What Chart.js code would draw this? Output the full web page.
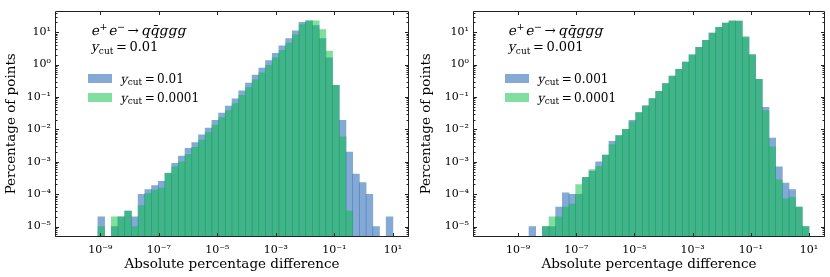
<!DOCTYPE html>
<html><head><meta charset="utf-8">
<script src="https://cdn.jsdelivr.net/npm/chart.js@4.4.1/dist/chart.umd.min.js"></script>
<style>
html,body{margin:0;padding:0;background:#fff;}
#wrap{position:relative;width:830px;height:277px;overflow:hidden;}
.panel{position:absolute;top:0;width:415px;height:277px;}
</style></head><body>
<div id="wrap">
<div class="panel" style="left:0"><canvas id="c1" width="415" height="277"></canvas></div>
<div class="panel" style="left:415px"><canvas id="c2" width="415" height="277"></canvas></div>
</div>
<script>
// log10 of histogram bin centres (bins 4..47 of a 48-bin log grid from 1e-10 to 1e1)
const binCentersLog = [-8.969,-8.740,-8.510,-8.281,-8.052,-7.823,-7.594,-7.365,-7.135,-6.906,
  -6.677,-6.448,-6.219,-5.990,-5.760,-5.531,-5.302,-5.073,-4.844,-4.615,
  -4.385,-4.156,-3.927,-3.698,-3.469,-3.240,-3.010,-2.781,-2.552,-2.323,
  -2.094,-1.865,-1.635,-1.406,-1.177,-0.948,-0.719,-0.490,-0.260,-0.031,
  0.198,0.427,0.656,0.885];

// Left panel: y_cut = 0.01 (blue) vs y_cut = 0.0001 (green)
const leftBlue = [2e-5,null,1e-5,2e-5,3e-5,2e-5,1e-4,1.4e-4,1.85e-4,2.5e-4,
  4.5e-4,9e-4,1.5e-3,2.6e-3,3.9e-3,6.8e-3,1.1e-2,1.9e-2,3.2e-2,5.2e-2,
  8.7e-2,0.155,0.27,0.47,0.78,1.32,2.24,3.8,6.3,11,
  20,22.4,16,6.3,1.6,0.23,0.019,2e-3,4.2e-4,2.3e-4,
  1e-4,1e-5,null,2e-5];
const leftGreen = [1e-5,null,2e-5,2e-5,3e-5,1e-5,4.5e-5,1.05e-4,1.35e-4,1.55e-4,
  4.3e-4,7e-4,1.0e-3,1.7e-3,2.8e-3,4.7e-3,8.1e-3,1.35e-2,2.3e-2,3.8e-2,
  6.3e-2,0.112,0.195,0.34,0.56,0.95,1.6,2.75,4.6,8.3,
  17,22.4,22.4,12,2.6,0.23,5.9e-3,3e-5,null,null,
  null,null,null,null];

// Right panel: y_cut = 0.001 (blue) vs y_cut = 0.0001 (green)
const rightBlue = [null,null,1e-5,null,1e-5,1e-5,4e-5,1.1e-4,1e-4,1e-4,
  3.3e-4,5.2e-4,1e-3,1.6e-3,4.3e-3,6.5e-3,1e-2,1.9e-2,3.3e-2,5.3e-2,
  8.9e-2,0.15,0.26,0.44,0.71,1.2,2.0,3.4,5.6,9.4,
  14,19,22,22,6.8,2.0,0.35,0.048,5.4e-3,7e-4,
  2.2e-4,1.4e-4,4e-5,1e-5];
const rightGreen = [null,null,null,null,1e-5,2e-5,2e-5,4e-5,5e-5,2e-4,
  3.3e-4,5.8e-4,7.3e-4,1.6e-3,3.4e-3,6.5e-3,1e-2,1.7e-2,3.3e-2,5.3e-2,
  8.9e-2,0.15,0.26,0.44,0.71,1.2,2.0,3.4,5.6,9.4,
  14,19,22.5,22,7.3,2.05,0.35,0.038,2.9e-3,2.8e-4,
  7.2e-5,8e-5,4e-5,1e-5];

const xTickExps = [-9,-7,-5,-3,-1,1];
const yTickExps = [-5,-4,-3,-2,-1,0,1];

const leftTexts = {cut: '0.01', legend: ['0.01','0.0001']};
const rightTexts = {cut: '0.001', legend: ['0.001','0.0001']};
// e+ e- -> q qbar g g g
const processText = ['e','+','e','\u2212','\u2192','q','q\u0304','g','g','g'];

const BLUE = 'rgba(9,83,171,0.5)';
const GREEN = 'rgba(1,189,63,0.5)';
const SERIF = "'DejaVu Serif', serif";

const SUP = {'-':'\u207B','0':'\u2070','1':'\u00B9','2':'\u00B2','3':'\u00B3','4':'\u2074','5':'\u2075','6':'\u2076','7':'\u2077','8':'\u2078','9':'\u2079'};
function powLabel(v){
  const e = Math.round(Math.log10(v));
  return '10' + String(e).split('').map(c => SUP[c]).join('');
}

// draw a sequence of text runs; italic runs are slanted DejaVu Serif
function runs(ctx, x, y, list){
  for (const r of list){
    x += (r.pre || 0);
    ctx.font = `${r.s}px ${SERIF}`;
    const yy = y + (r.dy || 0);
    if (r.it){
      ctx.save();
      ctx.translate(x, yy);
      ctx.transform(1, 0, -0.21, 1, 0, 0);
      ctx.fillText(r.t, 0, 0);
      ctx.restore();
    } else {
      ctx.fillText(r.t, x, yy);
    }
    x += ctx.measureText(r.t).width + (r.gap || 0);
  }
  return x;
}
function ycutRuns(val, size){
  const sub = Math.round(size*0.72);
  return [
    {t:'y', s:size, it:true, gap: 0.5},
    {t:'cut', s:sub, dy: size*0.22},
    {t:'\u2009=\u2009' + val, s:size}
  ];
}

const mplPlugin = {
  id: 'mpl',
  afterDraw(chart){
    const {ctx, chartArea: a, scales: {x, y}} = chart;
    const o = chart.options.plugins.mpl;
    ctx.save();
    const L = Math.round(a.left) + 0.5, R = Math.round(a.right) - 0.5;
    const T = Math.round(a.top) + 0.5, B = Math.round(a.bottom) - 0.5;
    ctx.strokeStyle = '#222'; ctx.lineWidth = 1;
    ctx.beginPath();
    ctx.rect(L, T, R - L, B - T);
    for (const e of xTickExps){
      const px = Math.round(x.getPixelForValue(Math.pow(10, e))) + 0.5;
      ctx.moveTo(px, B); ctx.lineTo(px, B - 3.5);
      ctx.moveTo(px, T); ctx.lineTo(px, T + 3.5);
    }
    for (let e = -6; e <= 2; e++){
      for (let k = 1; k <= 9; k++){
        const v = k * Math.pow(10, e);
        if (v < y.min || v > y.max) continue;
        const py = Math.round(y.getPixelForValue(v)) + 0.5;
        const len = k === 1 ? 3.5 : 2;
        ctx.moveTo(L, py); ctx.lineTo(L + len, py);
        ctx.moveTo(R, py); ctx.lineTo(R - len, py);
      }
    }
    ctx.stroke();

    // annotation
    ctx.fillStyle = '#000';
    ctx.textBaseline = 'alphabetic';
    const ax = a.left + o.annX;
    const fs = 13.5, g = 0.3;
    const p = processText;
    runs(ctx, ax, 35, [
      {t: p[0], s: fs, it: true, gap: 0.5},
      {t: p[1], s: 9.5, dy: -5.5, gap: 1},
      {t: p[2], s: fs, it: true, gap: 0.5},
      {t: p[3], s: 9.5, dy: -5.5},
      {t: p[4], s: fs, pre: 2.5, gap: 2.5},
      {t: p[5], s: fs, it: true, gap: g},
      {t: p[6], s: fs, it: true, gap: g},
      {t: p[7], s: fs, it: true, gap: g},
      {t: p[8], s: fs, it: true, gap: g},
      {t: p[9], s: fs, it: true}
    ]);
    runs(ctx, ax, 51, ycutRuns(o.texts.cut, 13));

    // legend
    const lx = a.left + o.legX;
    const cols = [BLUE, GREEN];
    const rowsY = [74, 93];
    for (let i = 0; i < 2; i++){
      ctx.fillStyle = cols[i];
      ctx.fillRect(lx, rowsY[i], 24, 9);
      ctx.fillStyle = '#000';
      runs(ctx, lx + 32.5, rowsY[i] + 8.5, ycutRuns(o.texts.legend[i], 12));
    }
    ctx.restore();
  }
};

function makeChart(id, blue, green, texts, yWidth, padRight, annX, legX){
  const toPts = arr => binCentersLog.map((c, i) => ({x: Math.pow(10, c), y: arr[i]}));
  return new Chart(document.getElementById(id), {
    type: 'bar',
    data: {
      datasets: [
        {label: 'ycut=' + texts.legend[1], data: toPts(green), backgroundColor: GREEN, order: 1},
        {label: 'ycut=' + texts.legend[0], data: toPts(blue), backgroundColor: BLUE, order: 2}
      ]
    },
    options: {
      responsive: false, animation: false, devicePixelRatio: 1,
      layout: {padding: {top: 5, right: padRight, bottom: 0, left: 0}},
      datasets: {bar: {grouped: false, barPercentage: 1, categoryPercentage: 1, borderWidth: 0}},
      plugins: {
        legend: {display: false}, tooltip: {enabled: false},
        mpl: {texts, annX, legX}
      },
      scales: {
        x: {
          type: 'logarithmic', min: Math.pow(10, -10.55), max: Math.pow(10, 1.55), offset: false,
          grid: {display: false, drawTicks: false}, border: {display: false},
          afterBuildTicks: s => { s.ticks = xTickExps.map(e => ({value: Math.pow(10, e)})); },
          ticks: {callback: v => powLabel(v), font: {family: SERIF, size: 11}, color: '#000',
                  padding: 7, maxRotation: 0, autoSkip: false},
          title: {display: true, text: 'Absolute percentage difference', color: '#000',
                  font: {family: SERIF, size: 13.5}, padding: {top: 0, bottom: 4}},
          afterFit: s => { s.height = 40; }
        },
        y: {
          type: 'logarithmic', min: Math.pow(10, -5.32), max: Math.pow(10, 1.665),
          grid: {display: false, drawTicks: false}, border: {display: false},
          afterBuildTicks: s => { s.ticks = yTickExps.map(e => ({value: Math.pow(10, e)})); },
          ticks: {callback: v => powLabel(v), font: {family: SERIF, size: 11}, color: '#000',
                  padding: 4, autoSkip: false},
          title: {display: true, text: 'Percentage of points', color: '#000',
                  font: {family: SERIF, size: 13.5}, padding: {top: 3, bottom: 0}},
          afterFit: s => { s.width = yWidth; }
        }
      }
    },
    plugins: [mplPlugin]
  });
}

makeChart('c1', leftBlue, leftGreen, leftTexts, 55, 6, 36, 33);
makeChart('c2', rightBlue, rightGreen, rightTexts, 58, 5, 35, 32);
</script>
</body></html>
